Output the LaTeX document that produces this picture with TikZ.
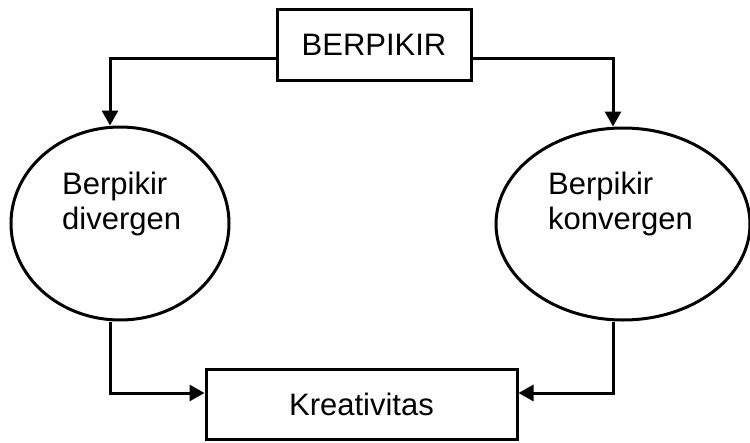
\documentclass[tikz,border=0pt]{standalone}
\usepackage{fontspec}
\setmainfont{Liberation Sans}
\usetikzlibrary{arrows.meta,shapes.geometric}
\begin{document}
\begin{tikzpicture}[x=1pt,y=-1pt,
  every node/.style={font=\fontsize{31}{35}\selectfont},
  boxnode/.style={draw,line width=3pt,rectangle,inner sep=0pt},
  ellnode/.style={draw,line width=3pt,ellipse,inner sep=0pt},
  lbl/.style={align=left,inner sep=0pt,anchor=west},
  arr/.style={line width=3pt,-{Triangle[length=15pt,width=16pt]}}]
\useasboundingbox (0,0) rectangle (750,442);
\node[boxnode,minimum width=194pt,minimum height=71pt] (top) at (374,44.5) {BERPIKIR};
\node[ellnode,minimum width=218pt,minimum height=193pt] (dl) at (120,223.5) {};
\node[ellnode,minimum width=254pt,minimum height=192pt] (dr) at (623,224) {};
\node[lbl] (tl) at (62,204) {Berpikir\\divergen};
\node[lbl] (tr) at (548,204) {Berpikir\\konvergen};
\node[boxnode,minimum width=311pt,minimum height=70pt] (kr) at (361.5,404) {Kreativitas};
\draw[arr] ([yshift=-13.5pt]top.west) -| ([xshift=-10pt]dl.north);
\draw[arr] ([yshift=-13.5pt]top.east) -| ([xshift=-10pt]dr.north);
\draw[arr] ([xshift=-10pt]dl.south) |- ([yshift=11pt]kr.west);
\draw[arr] ([xshift=-10pt]dr.south) |- ([yshift=11pt]kr.east);
\end{tikzpicture}
\end{document}
